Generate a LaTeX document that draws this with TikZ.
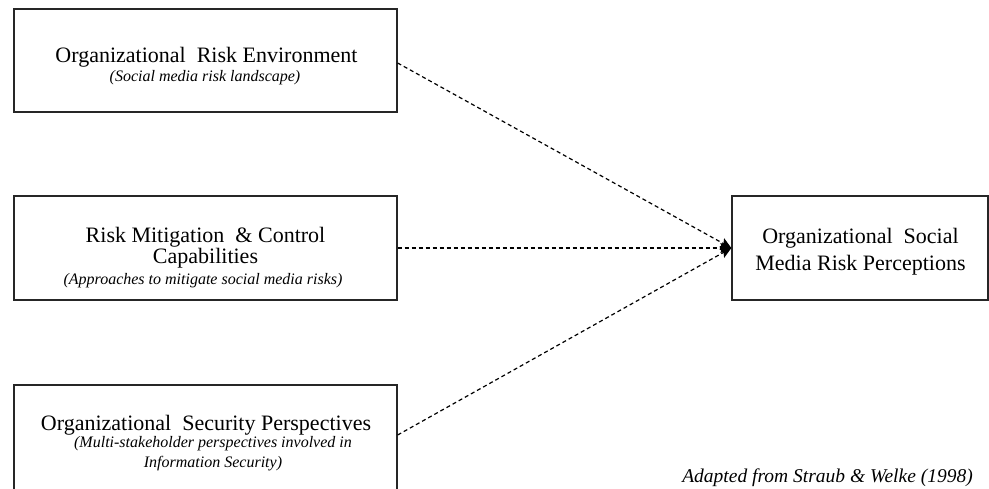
\documentclass[tikz,border=0pt]{standalone}
\usepackage{fontspec}
\setmainfont{Liberation Serif}
\usetikzlibrary{arrows.meta}
\begin{document}
\begin{tikzpicture}[x=1pt,y=-1pt,
  box/.style={draw=black!85,line width=1.3pt,fill=none},
  title/.style={anchor=base,inner sep=0pt,font=\fontsize{22}{24}\selectfont},
  sub/.style={anchor=base,inner sep=0pt,font=\fontsize{16}{18}\selectfont\itshape},
  conn/.style={dashed,dash pattern=on 4pt off 3pt,line width=1.2pt,-{Stealth[length=11pt,width=10pt,inset=2pt]}}]
\useasboundingbox (0,0) rectangle (989,488);
% boxes
\node[box,minimum width=383pt,minimum height=103pt,inner sep=0pt] (b1) at (205.5,60.5) {};
\node[box,minimum width=383pt,minimum height=104pt,inner sep=0pt] (b2) at (205.5,248) {};
\node[box,minimum width=383pt,minimum height=106pt,inner sep=0pt] (b3) at (205.5,438) {};
\node[box,minimum width=256pt,minimum height=104pt,inner sep=0pt] (b4) at (860,248) {};
% texts
\node[title] (t1) at (206.5,62) {Organizational\ \ Risk Environment};
\node[sub] (s1) at (205,81) {(Social media risk landscape)};
\node[title] (t2a) at (205.5,242) {Risk Mitigation\ \ \& Control};
\node[title] (t2b) at (205.5,263) {Capabilities};
\node[sub] (s2) at (203,284) {(Approaches to mitigate social media risks)};
\node[title] (t3) at (206,430) {Organizational\ \ Security Perspectives};
\node[sub] (s3a) at (213,447) {(Multi-stakeholder perspectives involved in};
\node[sub] (s3b) at (213,467) {Information Security)};
\node[title] (t4a) at (860.5,243) {Organizational\ \ Social};
\node[title] (t4b) at (860.5,270) {Media Risk Perceptions};
\node[anchor=base east,inner sep=0pt,font=\fontsize{19.5}{21}\selectfont\itshape] (cr) at (973,482) {Adapted from Straub \& Welke (1998)};
% connectors
\coordinate (p1) at (b1.east |- 0,63);
\coordinate (p3) at (b3.east |- 0,435);
\draw[conn] (p1) -- (b4.west);
\draw[conn] (b2.east) -- (b4.west);
\draw[conn] (p3) -- (b4.west);
\end{tikzpicture}
\end{document}
